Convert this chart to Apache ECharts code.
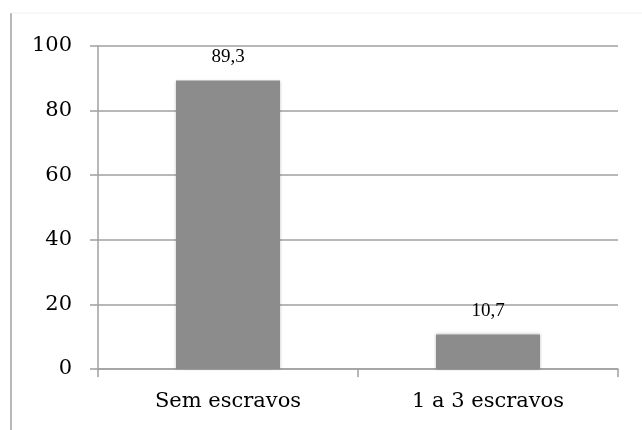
<!DOCTYPE html>
<html>
<head>
<meta charset="utf-8">
<script src="https://cdn.jsdelivr.net/npm/echarts@6/dist/echarts.min.js"></script>
<style>html,body{margin:0;padding:0;background:#fff;}#c{width:642px;height:430px;}</style>
</head>
<body>
<div id="c"></div>
<script>
var categories = ['Sem escravos', '1 a 3 escravos'];
var values = [89.3, 10.7];
var yTicks = [0, 20, 40, 60, 80, 100];

var chart = echarts.init(document.getElementById('c'), null, {renderer: 'canvas'});
chart.setOption({
  animation: false,
  backgroundColor: '#fff',
  graphic: [
    {type: 'line', shape: {x1: 11, y1: 13, x2: 11, y2: 430}, style: {stroke: '#a0a0a0', lineWidth: 1.5}},
    {type: 'line', shape: {x1: 11, y1: 13, x2: 642, y2: 13}, style: {stroke: '#efefef', lineWidth: 1}}
  ],
  grid: {left: 98, right: 24, top: 46, bottom: 61, containLabel: false},
  xAxis: {
    type: 'category',
    data: categories,
    axisLine: {lineStyle: {color: '#a0a0a0', width: 1.5}},
    axisTick: {show: true, length: 8, alignWithLabel: false, lineStyle: {color: '#a0a0a0', width: 1.5}},
    axisLabel: {color: '#000', fontFamily: 'DejaVu Serif', fontSize: 21, margin: 22}
  },
  yAxis: {
    type: 'value',
    min: yTicks[0],
    max: yTicks[yTicks.length - 1],
    interval: 20,
    axisLine: {show: true, lineStyle: {color: '#a0a0a0', width: 1.5}},
    axisTick: {show: true, length: 8, lineStyle: {color: '#a0a0a0', width: 1.5}},
    splitLine: {show: true, lineStyle: {color: '#a0a0a0', width: 1.5}},
    axisLabel: {color: '#000', fontFamily: 'DejaVu Serif', fontSize: 21, margin: 26}
  },
  series: [{
    type: 'bar',
    data: values,
    barWidth: '40%',
    itemStyle: {color: '#8c8c8c', shadowBlur: 3, shadowColor: 'rgba(0,0,0,0.25)'},
    label: {
      show: true,
      position: 'top',
      distance: 14,
      color: '#000',
      fontFamily: 'Liberation Serif',
      fontSize: 19,
      formatter: function (p) { return String(p.value).replace('.', ','); }
    }
  }]
});
</script>
</body>
</html>
